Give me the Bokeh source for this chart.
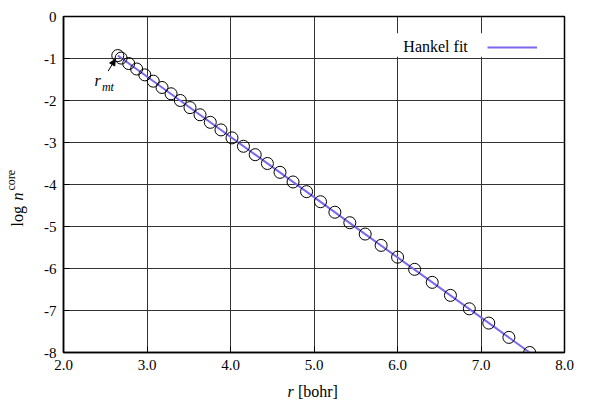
import math
from bokeh.plotting import figure
from bokeh.layouts import row, column
from bokeh.models import Label, Arrow, NormalHead, BoxAnnotation, Legend, LegendItem, FixedTicker, Range1d
from bokeh.embed import file_html
from bokeh.resources import INLINE

# ---- data ----
r_mt = [2.65]
n_mt = [-0.93]
r_pts = [2.690, 2.781, 2.876, 2.974, 3.075, 3.180, 3.288, 3.399, 3.515, 3.635,
         3.758, 3.886, 4.018, 4.155, 4.296, 4.442, 4.593, 4.749, 4.911, 5.078,
         5.250, 5.429, 5.613, 5.804, 6.001, 6.205, 6.416, 6.634, 6.860, 7.093,
         7.334, 7.583]
logn_pts = [-0.99, -1.12, -1.25, -1.39, -1.54, -1.69, -1.84, -2.00, -2.17, -2.34,
            -2.52, -2.70, -2.89, -3.09, -3.29, -3.50, -3.71, -3.94, -4.17, -4.41,
            -4.66, -4.91, -5.18, -5.45, -5.73, -6.02, -6.33, -6.64, -6.96, -7.30,
            -7.64, -8.00]
fit_r = [2.65, 3.5, 4.5, 5.5, 6.5, 7.583]
fit_logn = [-0.93, -2.15, -3.58, -5.02, -6.45, -8.00]

x_ticks = [2, 3, 4, 5, 6, 7, 8]
x_tick_labels = ["2.0", "3.0", "4.0", "5.0", "6.0", "7.0", "8.0"]
y_ticks = [0, -1, -2, -3, -4, -5, -6, -7, -8]
y_tick_labels = ["0", "-1", "-2", "-3", "-4", "-5", "-6", "-7", "-8"]

FONT = "Liberation Serif"
FS = "15px"
TC = "black"

# ---- main plot ----
p = figure(width=575, height=380, output_backend="svg", toolbar_location=None,
           x_range=Range1d(2, 8), y_range=Range1d(-8, 0),
           min_border_left=33, min_border_right=41, min_border_top=16, min_border_bottom=28)

p.outline_line_color = "black"
p.outline_line_width = 1.5
p.background_fill_color = "white"

for ax in (p.xaxis[0], p.yaxis[0]):
    ax.major_tick_in = 6
    ax.major_tick_out = 0
    ax.minor_tick_line_color = None
    ax.axis_line_color = "black"
    ax.axis_line_width = 1.5
    ax.major_label_text_font = FONT
    ax.major_label_text_font_size = FS
    ax.major_label_text_color = TC
    ax.major_tick_line_color = "black"

p.xaxis[0].ticker = FixedTicker(ticks=x_ticks)
p.xaxis[0].major_label_overrides = {t: l for t, l in zip(x_ticks, x_tick_labels)}
p.xaxis[0].major_label_standoff = 7
p.yaxis[0].ticker = FixedTicker(ticks=y_ticks)
p.yaxis[0].major_label_overrides = {t: l for t, l in zip(y_ticks, y_tick_labels)}
p.yaxis[0].major_label_standoff = 7

p.xgrid.grid_line_color = "#333333"
p.ygrid.grid_line_color = "#333333"
p.xgrid.grid_line_width = 1
p.ygrid.grid_line_width = 1

# legend white box (covers grid lines)
p.add_layout(BoxAnnotation(left=5.95, right=7.78, top=-0.40, bottom=-0.96,
                           fill_color="white", fill_alpha=1.0, line_color=None, level="underlay"))

fit = p.line(fit_r, fit_logn, line_color="#7b68ee", line_width=2)
p.scatter(r_pts, logn_pts, marker="circle", size=12, fill_color=None,
          line_color="black", line_width=1)
p.scatter(r_mt, n_mt, marker="circle", size=12, fill_color=None,
          line_color="black", line_width=1)

# legend: text then key line
p.add_layout(Label(x=6.07, y=-0.71, text="Hankel fit", text_font=FONT, text_font_size="16px",
                   text_baseline="middle", text_align="left", text_color=TC))
leg = Legend(items=[LegendItem(label=" ", renderers=[fit])], location=(424, 298),
             glyph_width=50, glyph_height=14, label_standoff=0, padding=0, margin=0,
             background_fill_alpha=0, border_line_color=None, label_text_font_size="1px")
p.add_layout(leg)

# r_mt annotation
p.add_layout(Arrow(end=NormalHead(size=6, fill_color="black", line_color="black"),
                   x_start=2.535, y_start=-1.30, x_end=2.62, y_end=-1.02,
                   line_color="black", line_width=1))
p.add_layout(Label(x=2.37, y=-1.52, text="r", text_font=FONT, text_font_size="16px",
                   text_font_style="italic", text_baseline="alphabetic", text_color=TC))
p.add_layout(Label(x=2.46, y=-1.67, text="mt", text_font=FONT, text_font_size="12px",
                   text_font_style="italic", text_baseline="alphabetic", text_color=TC))

# ---- y-axis label strip (left) ----
yfig = figure(width=30, height=399, output_backend="svg", toolbar_location=None,
              x_range=Range1d(0, 30), y_range=Range1d(0, 399),
              x_axis_type=None, y_axis_type=None,
              min_border_left=0, min_border_right=0, min_border_top=0, min_border_bottom=0)
yfig.outline_line_color = None
yfig.grid.visible = False
ang = math.pi / 2
yfig.add_layout(Label(x=17, y=173, text="log", text_font=FONT, text_font_size="16px", angle=ang,
                      text_baseline="middle", text_align="left", text_color=TC))
yfig.add_layout(Label(x=17, y=199, text="n", text_font=FONT, text_font_size="16px",
                      text_font_style="italic", angle=ang, text_baseline="middle", text_align="left",
                      text_color=TC))
yfig.add_layout(Label(x=10, y=209, text="core", text_font=FONT, text_font_size="12px", angle=ang,
                      text_baseline="middle", text_align="left", text_color=TC))

# ---- x-axis label strip (bottom) ----
xfig = figure(width=575, height=19, output_backend="svg", toolbar_location=None,
              x_range=Range1d(0, 575), y_range=Range1d(0, 19),
              x_axis_type=None, y_axis_type=None,
              min_border_left=0, min_border_right=0, min_border_top=0, min_border_bottom=0)
xfig.outline_line_color = None
xfig.grid.visible = False
xfig.add_layout(Label(x=257, y=8, text="r", text_font=FONT, text_font_size="16px",
                      text_font_style="italic", text_baseline="middle", text_align="left",
                      text_color=TC))
xfig.add_layout(Label(x=269, y=8, text="[bohr]", text_font=FONT, text_font_size="16px",
                      text_baseline="middle", text_align="left", text_color=TC))

layout = row(yfig, column(p, xfig))
open("out.html", "w").write(file_html(layout, INLINE))
